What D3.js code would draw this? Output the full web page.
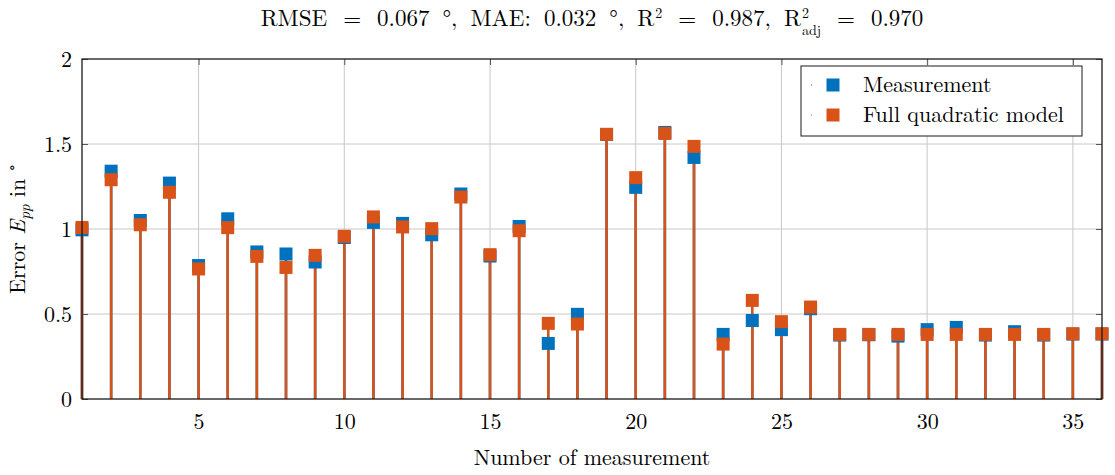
<!DOCTYPE html>
<html>
<head>
<meta charset="utf-8">
<script src="https://cdn.jsdelivr.net/npm/d3@7"></script>
<style>
  html, body { margin: 0; padding: 0; background: #fff; }
  svg text { font-family: "Latin Modern Roman", "DejaVu Serif", "Liberation Serif", serif; fill: #000; }
</style>
</head>
<body>
<svg id="chart" width="1115" height="475"></svg>
<script>
// Measurement index 1..36
const measurementIndex = d3.range(1, 37);

// Measured error E_pp in degrees
const measured = [
  0.995, 1.340, 1.050, 1.270, 0.785, 1.060, 0.865, 0.853, 0.806, 0.950,
  1.039, 1.033, 0.966, 1.206, 0.841, 1.015, 0.327, 0.498, 1.556, 1.245,
  1.568, 1.421, 0.380, 0.462, 0.408, 0.531, 0.376, 0.378, 0.370, 0.408,
  0.421, 0.376, 0.396, 0.376, 0.382, 0.382
];

// Prediction of the full quadratic model
const modelled = [
  1.009, 1.290, 1.025, 1.216, 0.765, 1.008, 0.839, 0.774, 0.845, 0.957,
  1.071, 1.012, 1.002, 1.188, 0.849, 0.990, 0.445, 0.441, 1.557, 1.302,
  1.562, 1.486, 0.323, 0.580, 0.455, 0.541, 0.380, 0.380, 0.380, 0.380,
  0.380, 0.380, 0.380, 0.380, 0.384, 0.384
];

const xTicks = [5, 10, 15, 20, 25, 30, 35];
const yTicks = [0, 0.5, 1, 1.5, 2];
const seriesNames = ["Measurement", "Full quadratic model"];
const seriesColors = ["#0072BD", "#D95319"];

const svg = d3.select("#chart");
const plot = { left: 82, right: 1102, top: 59, bottom: 399 };
const fontSize = 22;

const x = d3.scaleLinear().domain([1, 36]).range([plot.left, plot.right]);
const y = d3.scaleLinear().domain([0, 2]).range([plot.bottom, plot.top]);

// Grid
const grid = svg.append("g");
grid.selectAll("line.gx").data(xTicks).join("line")
  .attr("x1", d => x(d)).attr("x2", d => x(d))
  .attr("y1", plot.top).attr("y2", plot.bottom)
  .attr("stroke", "#c8c8c8").attr("stroke-width", 1);
grid.selectAll("line.gy").data(yTicks.filter(d => d > 0 && d < 2)).join("line")
  .attr("x1", plot.left).attr("x2", plot.right)
  .attr("y1", d => y(d)).attr("y2", d => y(d))
  .attr("stroke", "#c8c8c8").attr("stroke-width", 1);

// Axes (inward ticks on all four sides)
const tickLen = 6;
const axisBottom = d3.axisBottom(x).tickValues(xTicks).tickSize(-tickLen).tickPadding(14).tickFormat(d3.format("d"));
const axisTop = d3.axisTop(x).tickValues(xTicks).tickSize(-tickLen).tickFormat("");
const axisLeft = d3.axisLeft(y).tickValues(yTicks).tickSize(-tickLen).tickPadding(10).tickFormat(d => String(d));
const axisRight = d3.axisRight(y).tickValues(yTicks).tickSize(-tickLen).tickFormat("");

function styleAxis(g) {
  g.select(".domain").remove();
  g.selectAll(".tick line").attr("stroke", "#555").attr("stroke-width", 1);
  g.selectAll(".tick text").style("font-size", fontSize + "px").attr("fill", "#000");
}
svg.append("g").attr("transform", `translate(0,${plot.bottom})`).call(axisBottom).call(styleAxis);
svg.append("g").attr("transform", `translate(0,${plot.top})`).call(axisTop).call(styleAxis);
svg.append("g").attr("transform", `translate(${plot.left},0)`).call(axisLeft).call(styleAxis);
svg.append("g").attr("transform", `translate(${plot.right},0)`).call(axisRight).call(styleAxis);

// Stems and markers
const series = [measured, modelled];
const stems = svg.append("g");
series.forEach((vals, i) => {
  stems.selectAll(null).data(measurementIndex).join("line")
    .attr("x1", d => x(d)).attr("x2", d => x(d))
    .attr("y1", y(0)).attr("y2", (d, k) => y(vals[k]))
    .attr("stroke", seriesColors[i]).attr("stroke-width", 2.6);
});
const markerSize = 13;
const marks = svg.append("g");
series.forEach((vals, i) => {
  marks.selectAll(null).data(measurementIndex).join("rect")
    .attr("x", d => x(d) - markerSize / 2)
    .attr("y", (d, k) => y(vals[k]) - markerSize / 2)
    .attr("width", markerSize).attr("height", markerSize)
    .attr("fill", seriesColors[i]);
});

// Plot box
svg.append("rect")
  .attr("x", plot.left).attr("y", plot.top)
  .attr("width", plot.right - plot.left).attr("height", plot.bottom - plot.top)
  .attr("fill", "none").attr("stroke", "#1a1a1a").attr("stroke-width", 1.3);

// Legend
const legend = svg.append("g");
legend.append("rect")
  .attr("x", 801).attr("y", 66).attr("width", 281).attr("height", 70)
  .attr("fill", "#fff").attr("stroke", "#1a1a1a").attr("stroke-width", 1);
seriesNames.forEach((name, i) => {
  const cy = 85 + i * 30;
  legend.append("line")
    .attr("x1", 811).attr("x2", 856).attr("y1", cy).attr("y2", cy)
    .attr("stroke", seriesColors[i]).attr("stroke-width", 1)
    .attr("stroke-dasharray", "1 44");
  legend.append("rect")
    .attr("x", 833 - markerSize / 2).attr("y", cy - markerSize / 2)
    .attr("width", markerSize).attr("height", markerSize)
    .attr("fill", seriesColors[i]);
  legend.append("text")
    .attr("x", 863).attr("y", cy + 7)
    .style("font-size", fontSize + "px")
    .text(name);
});

// Title laid out piece by piece: math-style wide gaps around "=",
// superscript 2 and a stacked "adj" subscript under the second one.
const titleGroup = svg.append("g");
const titleY = 26;
const bigGap = 16, smallGap = 13;
const titlePieces = [
  { t: "RMSE", gap: 0 },
  { t: "=", gap: bigGap },
  { t: "0.067", gap: bigGap },
  { t: "°,", gap: smallGap },
  { t: "MAE:", gap: smallGap },
  { t: "0.032", gap: smallGap },
  { t: "°,", gap: smallGap },
  { t: "R", gap: smallGap, sup: "2" },
  { t: "=", gap: bigGap },
  { t: "0.987,", gap: bigGap },
  { t: "R", gap: smallGap, sup: "2", sub: "adj" },
  { t: "=", gap: bigGap },
  { t: "0.970", gap: bigGap }
];
let cursor = 0;
titlePieces.forEach(p => {
  cursor += p.gap;
  const main = titleGroup.append("text")
    .attr("x", cursor).attr("y", titleY)
    .style("font-size", "23px").text(p.t);
  cursor += main.node().getComputedTextLength();
  let extra = 0;
  if (p.sup) {
    const s = titleGroup.append("text")
      .attr("x", cursor + 1).attr("y", titleY - 8)
      .style("font-size", "14px").text(p.sup);
    extra = Math.max(extra, s.node().getComputedTextLength() + 1);
  }
  if (p.sub) {
    const s = titleGroup.append("text")
      .attr("x", cursor + 1).attr("y", titleY + 9)
      .style("font-size", "14px").text(p.sub);
    extra = Math.max(extra, s.node().getComputedTextLength() + 1);
  }
  cursor += extra;
});
titleGroup.attr("transform", `translate(${(plot.left + plot.right) / 2 - cursor / 2},0)`);

// Axis labels
svg.append("text")
  .attr("x", (plot.left + plot.right) / 2).attr("y", 465)
  .attr("text-anchor", "middle").style("font-size", fontSize + "px")
  .text("Number of measurement");

const ylab = svg.append("text")
  .attr("transform", `translate(25,${(plot.top + plot.bottom) / 2}) rotate(-90)`)
  .attr("text-anchor", "middle").style("font-size", fontSize + "px");
ylab.append("tspan").text("Error ");
ylab.append("tspan").style("font-style", "italic").text("E");
ylab.append("tspan").attr("dy", 5).style("font-style", "italic").style("font-size", "15px").text("pp");
ylab.append("tspan").attr("dy", -5).text(" in ");
ylab.append("tspan").attr("dy", -8).style("font-size", "15px").text("∘");
</script>
</body>
</html>
